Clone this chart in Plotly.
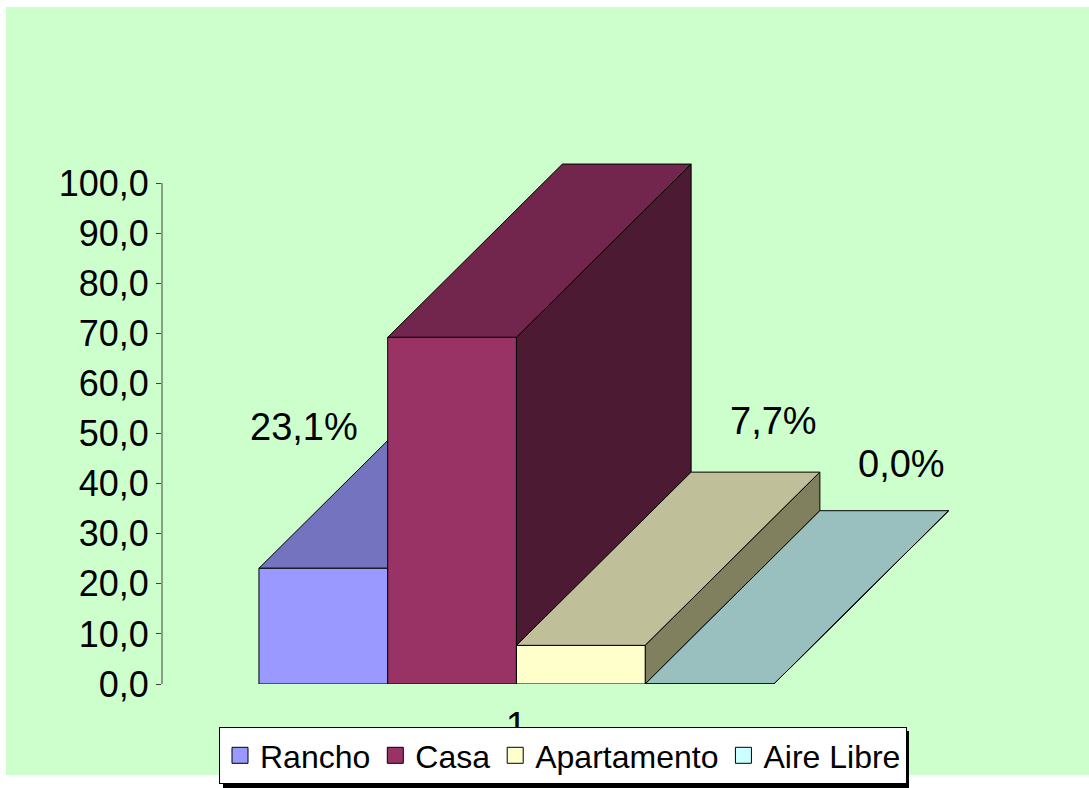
import plotly.graph_objects as go

# ---------------- data ----------------
categories = ["Rancho", "Casa", "Apartamento", "Aire Libre"]
values = [23.1, 69.2, 7.7, 0.0]
group_labels = ["1"]
y_tick_values = [0, 10, 20, 30, 40, 50, 60, 70, 80, 90, 100]
y_tick_labels = ["0,0", "10,0", "20,0", "30,0", "40,0", "50,0",
                 "60,0", "70,0", "80,0", "90,0", "100,0"]

# ---------------- style ----------------
front_colors = ["#9999FF", "#993366", "#FFFFCC", "#CCFFFF"]
top_colors = ["#7373BF", "#73264D", "#BFBF99", "#99BFBF"]
side_colors = ["#5C5C99", "#4D1A33", "#80805F", "#7A9999"]
label_offsets = [(-0.15, 28.2), (1.16, 44.8), (1.5, 44.8), (1.49, 43.9)]

BAR_W = 1.0
DEPTH_X = 1.357   # oblique depth, in bar widths
DEPTH_Y = 34.6    # oblique depth, in value units
FONT = "Liberation Sans, Arial, sans-serif"
BG = "#CCFFCC"

W, H = 1089, 788
ML, MR, MT, MB = 162, 89, 133, 104
X_RANGE = [-0.753, 5.756]
Y_RANGE = [0, 110]


def px_to_paper_x(px):
    return (px - ML) / (W - ML - MR)


def px_to_paper_y(py):
    return (H - MB - py) / (H - MT - MB)


fig = go.Figure()


def poly(xs, ys, color):
    fig.add_trace(go.Scatter(
        x=xs + [xs[0]], y=ys + [ys[0]], mode="lines", fill="toself",
        fillcolor=color, line=dict(color="black", width=1),
        hoverinfo="skip", showlegend=False))


for i, v in enumerate(values):
    x0 = i * BAR_W
    x1 = x0 + BAR_W
    # top face
    poly([x0, x1, x1 + DEPTH_X, x0 + DEPTH_X], [v, v, v + DEPTH_Y, v + DEPTH_Y], top_colors[i])
    # right side face
    poly([x1, x1 + DEPTH_X, x1 + DEPTH_X, x1], [0, DEPTH_Y, v + DEPTH_Y, v], side_colors[i])
    # front face
    poly([x0, x1, x1, x0], [0, 0, v, v], front_colors[i])

# legend entries
for name, c in zip(categories, front_colors):
    fig.add_trace(go.Scatter(
        x=[None], y=[None], mode="markers", name=name,
        marker=dict(symbol="square", size=16, color=c, line=dict(color="black", width=1))))

# data labels
for i, v in enumerate(values):
    dx, dy = label_offsets[i]
    fig.add_annotation(
        x=i * BAR_W + BAR_W / 2 + dx, y=v + dy,
        text=f"{v:.1f}%".replace(".", ","), showarrow=False,
        xanchor="center", yanchor="middle",
        font=dict(family=FONT, size=38, color="black"))

n = len(values)
LEG_L, LEG_T, LEG_R = 219, 727, 905
fig.update_layout(
    width=W, height=H, autosize=False,
    margin=dict(l=ML, r=MR, t=MT, b=MB, pad=0, autoexpand=False),
    paper_bgcolor="white", plot_bgcolor="rgba(0,0,0,0)",
    font=dict(family=FONT, size=36, color="black"),
    showlegend=True,
    legend=dict(
        orientation="h", x=px_to_paper_x(LEG_L), y=px_to_paper_y(LEG_T),
        xanchor="left", yanchor="top",
        bgcolor="white", bordercolor="black", borderwidth=1,
        font=dict(family=FONT, size=32, color="black"),
        itemwidth=30, tracegroupgap=0),
    xaxis=dict(range=X_RANGE, showgrid=False, zeroline=False, showline=False,
               ticks="", tickvals=[n * BAR_W / 2], ticktext=group_labels,
               ticklabelstandoff=16,
               tickfont=dict(family=FONT, size=38), fixedrange=True),
    yaxis=dict(range=Y_RANGE, showgrid=False, zeroline=False, showline=False,
               ticks="outside", ticklen=5, tickwidth=1, tickcolor="#404040",
               tickvals=y_tick_values, ticktext=y_tick_labels,
               tickfont=dict(family=FONT, size=36), fixedrange=True),
    shapes=[
        dict(type="rect", xref="paper", yref="paper", layer="below",
             x0=px_to_paper_x(6), x1=px_to_paper_x(1089),
             y0=px_to_paper_y(775), y1=px_to_paper_y(7),
             fillcolor=BG, line=dict(width=0)),
        # legend drop shadow
        dict(type="rect", xref="paper", yref="paper", layer="above",
             x0=px_to_paper_x(LEG_L + 4), x1=px_to_paper_x(LEG_R + 4),
             y0=px_to_paper_y(795), y1=px_to_paper_y(LEG_T + 4),
             fillcolor="black", line=dict(width=0)),
        dict(type="line", xref="paper", yref="y", x0=0, x1=0, y0=0, y1=100,
             line=dict(color="#404040", width=1)),
    ],
)

fig.write_html("out.html", config={"displayModeBar": False})
